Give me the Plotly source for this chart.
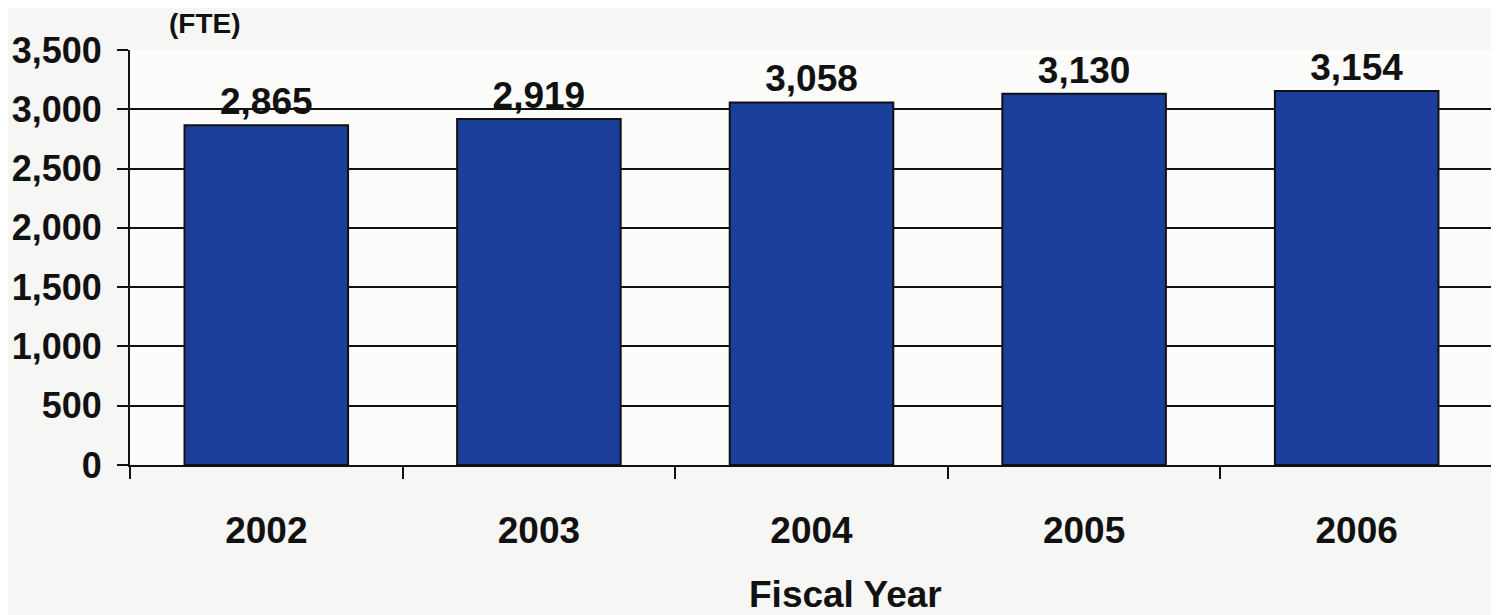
import plotly.graph_objects as go

years = ["2002", "2003", "2004", "2005", "2006"]
fte = [2865, 2919, 3058, 3130, 3154]
value_labels = ["2,865", "2,919", "3,058", "3,130", "3,154"]
y_ticks = [0, 500, 1000, 1500, 2000, 2500, 3000, 3500]
y_tick_labels = ["0", "500", "1,000", "1,500", "2,000", "2,500", "3,000", "3,500"]

FONT = "Liberation Sans, Arial, sans-serif"
INK = "#111111"

fig = go.Figure()
fig.add_trace(go.Bar(
    x=years, y=fte,
    width=0.6,
    marker=dict(color="#1b3e9a", line=dict(color=INK, width=2)),
    text=value_labels, textposition="outside",
    textfont=dict(family=FONT, size=37, color=INK, weight="bold"),
    cliponaxis=False,
    hoverinfo="skip",
))

fig.update_layout(
    width=1491, height=607,
    margin=dict(l=120, r=4, t=42, b=150),
    paper_bgcolor="#f6f6f4",
    plot_bgcolor="#fcfcfb",
    showlegend=False,
    font=dict(family=FONT, color=INK),
)

fig.update_xaxes(
    type="category",
    showline=True, linecolor=INK, linewidth=2,
    ticks="outside", tickson="boundaries", ticklen=12, tickwidth=2, tickcolor=INK,
    tickfont=dict(family=FONT, size=37, color=INK, weight="bold"),
    ticklabelstandoff=32,
    showgrid=False,
)
fig.update_yaxes(
    range=[0, 3500],
    tickvals=y_ticks, ticktext=y_tick_labels,
    showline=True, linecolor=INK, linewidth=2, mirror=True,
    ticks="outside", ticklen=11, tickwidth=2, tickcolor=INK,
    tickfont=dict(family=FONT, size=36, color=INK, weight="bold"),
    ticklabelstandoff=8,
    showgrid=True, gridcolor=INK, gridwidth=2,
    zeroline=False,
)

fig.add_annotation(text="<b>(FTE)</b>", xref="paper", yref="paper",
                   x=(157 - 120) / 1367, y=1, yshift=27, xanchor="left", yanchor="middle",
                   showarrow=False, font=dict(family=FONT, size=28, color=INK))
fig.add_annotation(text="<b>Fiscal Year</b>", xref="paper", yref="paper",
                   x=(838 - 120) / 1367, y=0, yshift=-129, xanchor="center", yanchor="middle",
                   showarrow=False, font=dict(family=FONT, size=37, color=INK))

fig.write_html("out.html")
